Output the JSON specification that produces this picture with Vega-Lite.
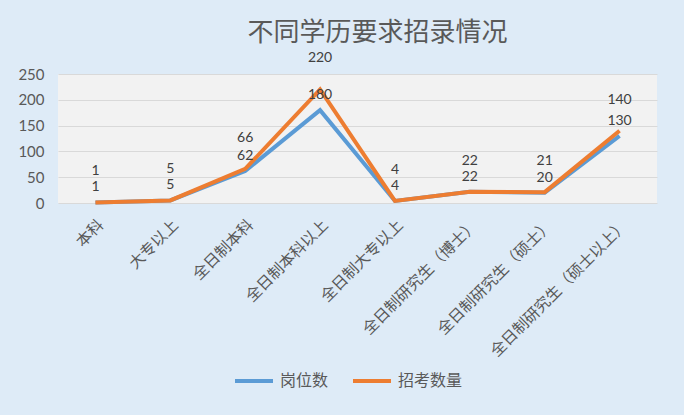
{
  "$schema": "https://vega.github.io/schema/vega-lite/v6.json",
  "width": 599,
  "height": 129,
  "autosize": {"type": "none"},
  "padding": {"left": 58, "top": 74, "right": 27, "bottom": 212},
  "background": "#DEEBF7",
  "title": {
    "text": "不同学历要求招录情况",
    "fontSize": 26,
    "font": "Noto Sans CJK SC",
    "fontWeight": "normal",
    "color": "#595959",
    "anchor": "middle",
    "dx": 20,
    "offset": 5
  },
  "config": {
    "view": {"fill": "#F2F2F2", "stroke": null}
  },
  "data": {
    "values": [
      {"category": "本科", "series": "岗位数", "value": 1},
      {"category": "大专以上", "series": "岗位数", "value": 5},
      {"category": "全日制本科", "series": "岗位数", "value": 62},
      {"category": "全日制本科以上", "series": "岗位数", "value": 180},
      {"category": "全日制大专以上", "series": "岗位数", "value": 4},
      {"category": "全日制研究生（博士）", "series": "岗位数", "value": 22},
      {"category": "全日制研究生（硕士）", "series": "岗位数", "value": 20},
      {"category": "全日制研究生（硕士以上）", "series": "岗位数", "value": 130},
      {"category": "本科", "series": "招考数量", "value": 1},
      {"category": "大专以上", "series": "招考数量", "value": 5},
      {"category": "全日制本科", "series": "招考数量", "value": 66},
      {"category": "全日制本科以上", "series": "招考数量", "value": 220},
      {"category": "全日制大专以上", "series": "招考数量", "value": 4},
      {"category": "全日制研究生（博士）", "series": "招考数量", "value": 22},
      {"category": "全日制研究生（硕士）", "series": "招考数量", "value": 21},
      {"category": "全日制研究生（硕士以上）", "series": "招考数量", "value": 140}
    ]
  },
  "encoding": {
    "x": {
      "field": "category",
      "type": "nominal",
      "sort": ["本科", "大专以上", "全日制本科", "全日制本科以上", "全日制大专以上", "全日制研究生（博士）", "全日制研究生（硕士）", "全日制研究生（硕士以上）"],
      "scale": {"type": "point", "padding": 0.5},
      "axis": {
        "title": null,
        "domain": false,
        "ticks": false,
        "grid": false,
        "labelAngle": -45,
        "labelFont": "Noto Sans CJK SC",
        "labelFontSize": 15.5,
        "labelColor": "#595959",
        "labelPadding": 14,
        "labelLimit": 400
      }
    },
    "y": {
      "field": "value",
      "type": "quantitative",
      "scale": {"domain": [0, 250], "nice": false},
      "axis": {
        "title": null,
        "domain": false,
        "ticks": false,
        "values": [0, 50, 100, 150, 200, 250],
        "gridColor": "#D9D9D9",
        "labelFont": "Lato",
        "labelFontSize": 15,
        "labelColor": "#595959",
        "labelPadding": 14
      }
    }
  },
  "layer": [
    {
      "mark": {"type": "line", "strokeWidth": 4},
      "encoding": {
        "color": {
          "field": "series",
          "type": "nominal",
          "scale": {"domain": ["岗位数", "招考数量"], "range": ["#5B9BD5", "#ED7D31"]},
          "legend": {
            "title": null,
            "orient": "none",
            "legendX": 175,
            "legendY": 286,
            "direction": "horizontal",
            "padding": 0,
            "symbolType": "stroke",
            "symbolStrokeWidth": 4,
            "symbolSize": 1444,
            "labelFont": "Noto Sans CJK SC",
            "labelFontSize": 16,
            "labelColor": "#595959",
            "labelOffset": 5,
            "columnPadding": 16
          }
        }
      }
    },
    {
      "transform": [{"filter": "datum.series === '岗位数'"}],
      "mark": {"type": "text", "dy": -15, "font": "Lato", "fontSize": 14, "color": "#404040"},
      "encoding": {"text": {"field": "value", "type": "quantitative"}}
    },
    {
      "transform": [{"filter": "datum.series === '招考数量'"}],
      "mark": {"type": "text", "dy": -31, "font": "Lato", "fontSize": 14, "color": "#404040"},
      "encoding": {"text": {"field": "value", "type": "quantitative"}}
    }
  ]
}
